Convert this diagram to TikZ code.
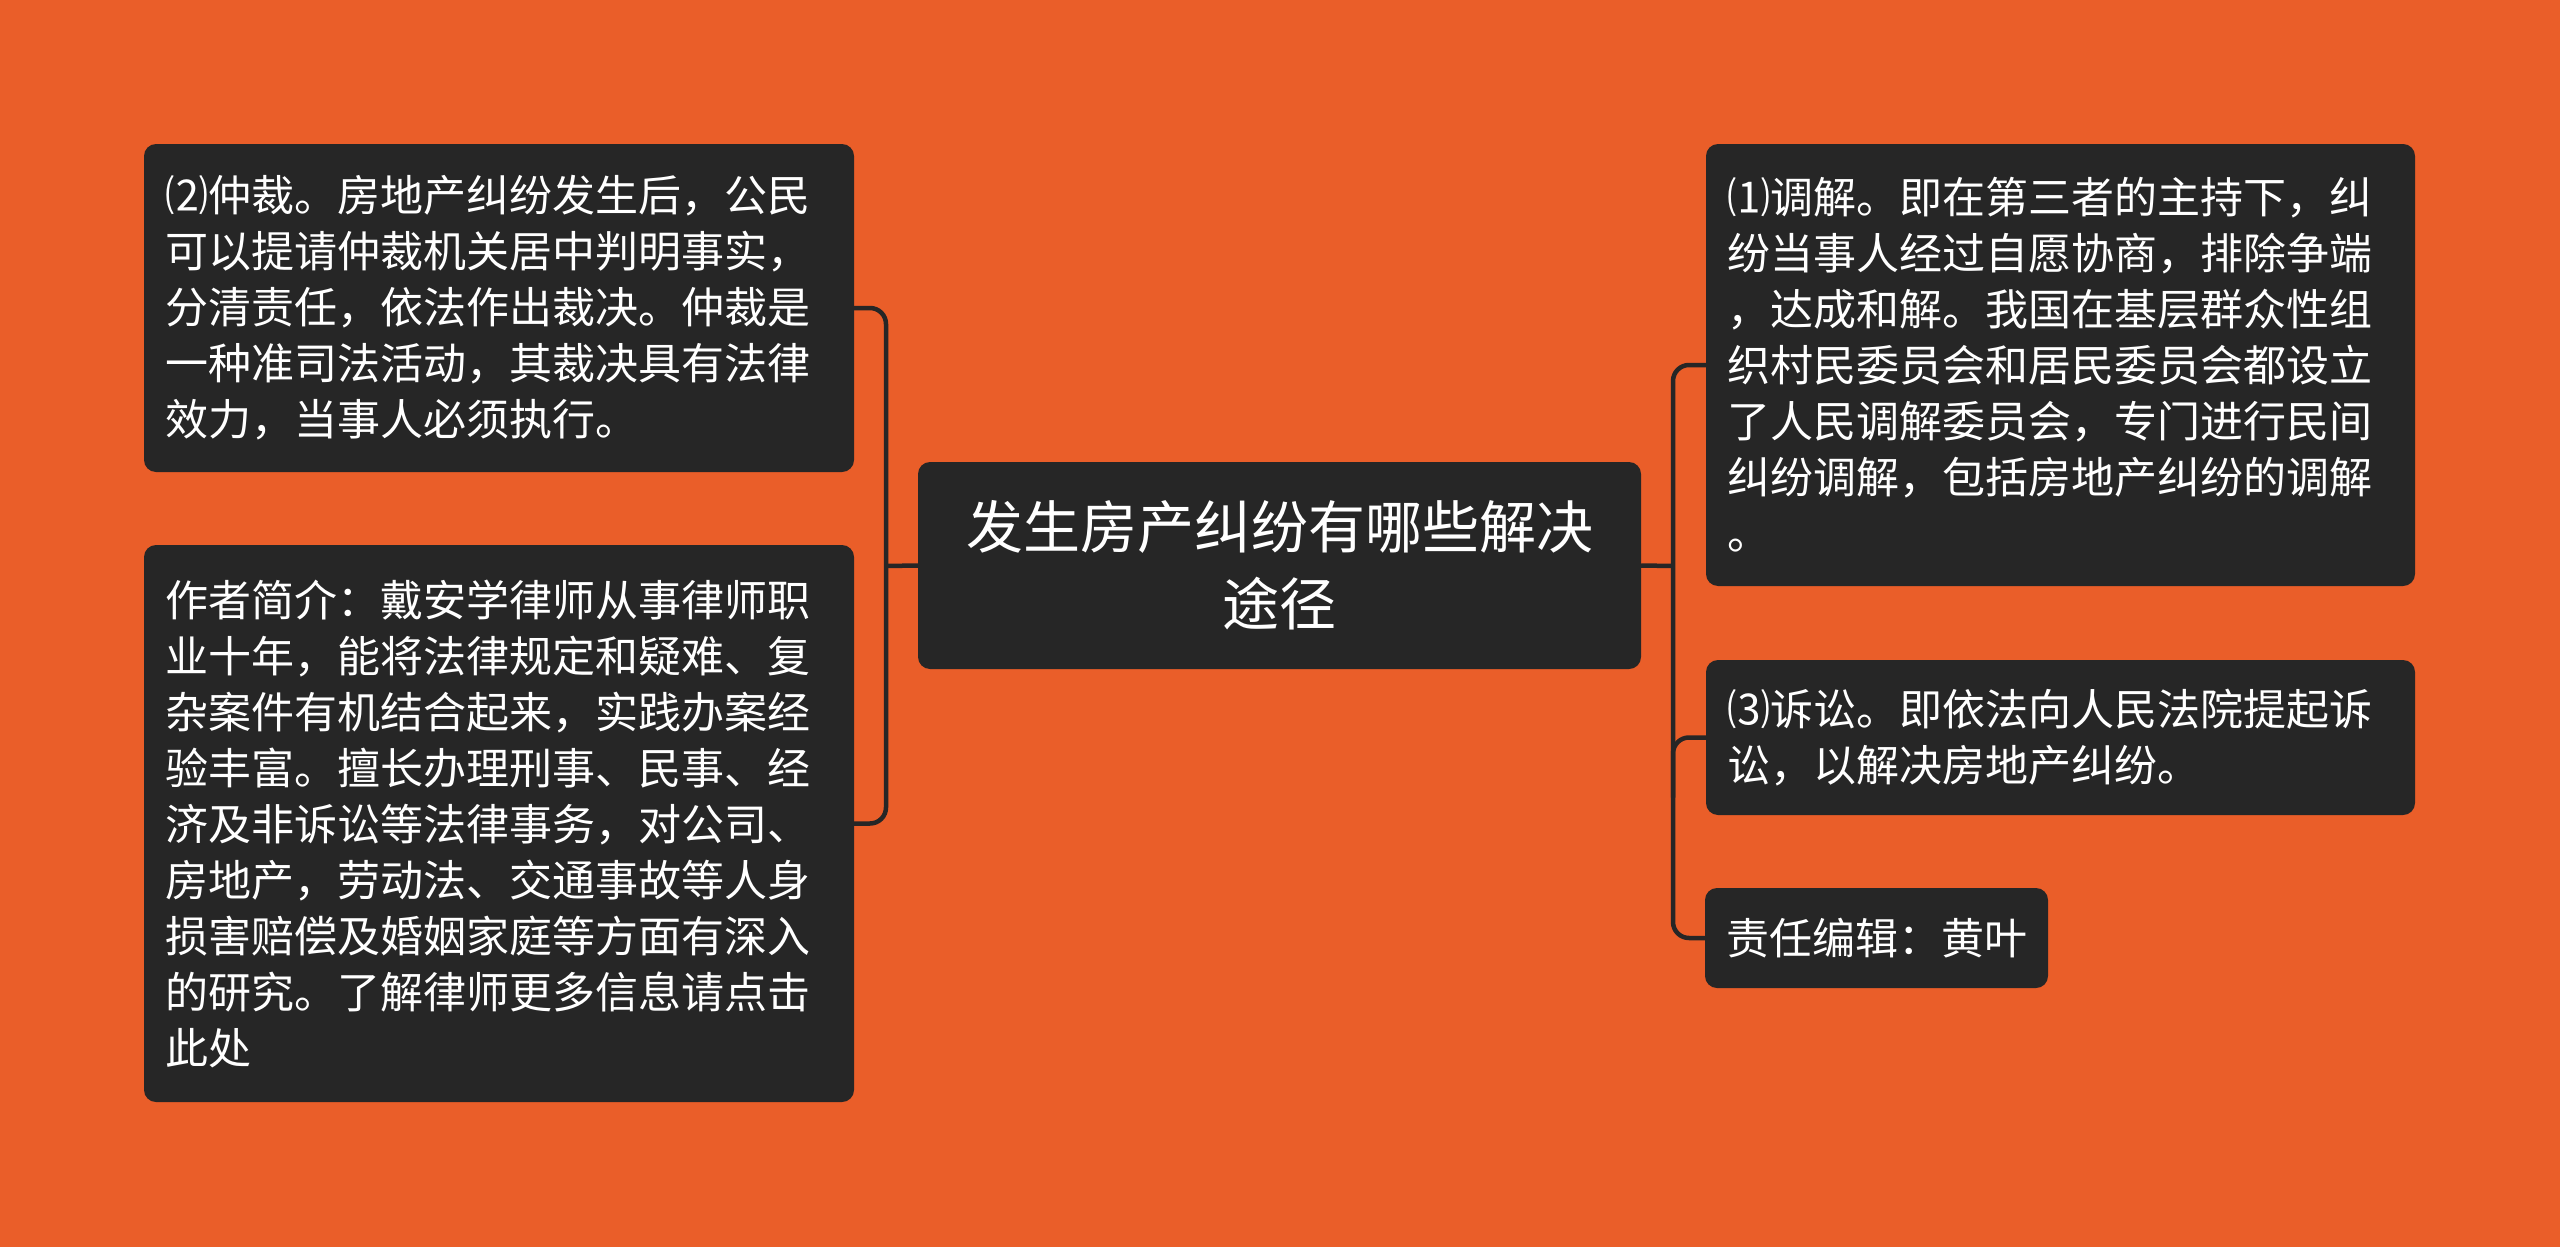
\documentclass[tikz,border=0pt]{standalone}
\usepackage{fontspec}
\newfontfamily\cjk{Noto Sans CJK SC}
\definecolor{bgc}{HTML}{EA5E29}
\definecolor{boxc}{HTML}{262626}
\definecolor{linec}{HTML}{262626}
\begin{document}
\begin{tikzpicture}[x=1pt,y=-1pt,
  box/.style={fill=boxc, rounded corners=12pt, text=white, inner xsep=21pt, inner ysep=0pt, align=left, font=\cjk\fontsize{43}{56}\selectfont},
  root/.style={fill=boxc, rounded corners=12pt, text=white, inner xsep=21pt, inner ysep=0pt, align=center, font=\cjk\fontsize{57}{77}\selectfont},
  conn/.style={draw=linec, line width=4.5pt, rounded corners=16pt}]
\fill[bgc] (0,0) rectangle (2560,1247);
\useasboundingbox (0,0) rectangle (2560,1247);

\node[root, text width=681pt, minimum height=207pt] (c) at (1279.5,565.5) {发生房产纠纷有哪些解决\\途径};

\node[box, text width=668pt, minimum height=328pt] (l1) at (499,308) {⑵仲裁。房地产纠纷发生后，公民\\可以提请仲裁机关居中判明事实，\\分清责任，依法作出裁决。仲裁是\\一种准司法活动，其裁决具有法律\\效力，当事人必须执行。};

\node[box, text width=668pt, minimum height=557pt] (l2) at (499,823.5) {作者简介：戴安学律师从事律师职\\业十年，能将法律规定和疑难、复\\杂案件有机结合起来，实践办案经\\验丰富。擅长办理刑事、民事、经\\济及非诉讼等法律事务，对公司、\\房地产，劳动法、交通事故等人身\\损害赔偿及婚姻家庭等方面有深入\\的研究。了解律师更多信息请点击\\此处};

\node[box, text width=667pt, minimum height=442pt] (r1) at (2060.5,365) {⑴调解。即在第三者的主持下，纠\\纷当事人经过自愿协商，排除争端\\，达成和解。我国在基层群众性组\\织村民委员会和居民委员会都设立\\了人民调解委员会，专门进行民间\\纠纷调解，包括房地产纠纷的调解\\。};

\node[box, text width=667pt, minimum height=155pt] (r2) at (2060.5,737.5) {⑶诉讼。即依法向人民法院提起诉\\讼，以解决房地产纠纷。};

\node[box, text width=301pt, minimum height=100pt] (r3) at (1876.5,938) {责任编辑：黄叶};

\coordinate (ls) at (886,566);
\coordinate (rs) at (1673,566);

\draw[conn] (l1.east) -- (ls |- l1.east) -- (ls |- l2.east) -- (l2.east);
\draw[conn] (c.west) -- (ls);
\draw[conn] (r1.west) -- (rs |- r1.west) -- (rs |- r3.west) -- (r3.west);
\draw[conn] (c.east) -- (rs);
\draw[conn] ([yshift=-60pt]rs |- r2.west) -- (rs |- r2.west) -- (r2.west);
\end{tikzpicture}
\end{document}
